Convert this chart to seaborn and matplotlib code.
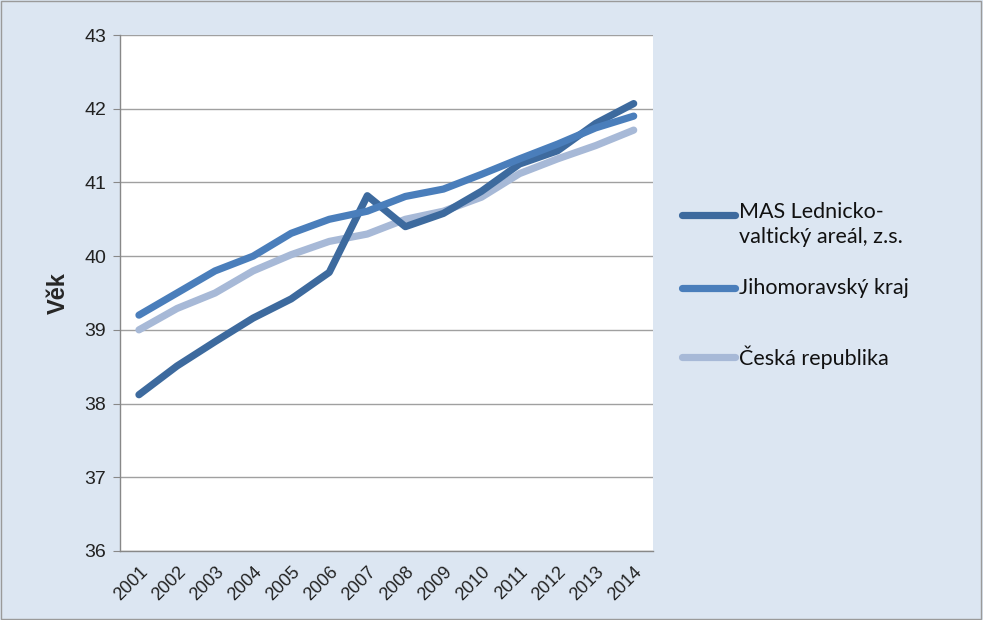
import matplotlib
matplotlib.use("Agg")
import matplotlib.pyplot as plt
from matplotlib.lines import Line2D
from matplotlib.patches import Rectangle
import seaborn as sns
import pandas as pd
import numpy as np

years = [str(y) for y in range(2001, 2015)]
mas = [38.12, 38.51, 38.84, 39.16, 39.42, 39.78, 40.82, 40.40, 40.58, 40.88, 41.25, 41.43, 41.80, 42.07]
jmk = [39.20, 39.50, 39.80, 40.00, 40.31, 40.50, 40.61, 40.81, 40.91, 41.11, 41.32, 41.52, 41.74, 41.90]
cr = [39.00, 39.29, 39.50, 39.80, 40.02, 40.20, 40.30, 40.50, 40.61, 40.80, 41.12, 41.32, 41.50, 41.71]
series_names = ["MAS Lednicko-\nvaltický areál, z.s.", "Jihomoravský kraj", "Česká republika"]
colors = ["#3D6A9E", "#4A7EBB", "#A7B9D7"]
yticks = [36, 37, 38, 39, 40, 41, 42, 43]

sns.set_style("white")
plt.rcParams['font.family'] = ['Liberation Sans', 'DejaVu Sans']

df = pd.DataFrame({
    "x": list(range(len(years))) * 3,
    "value": mas + jmk + cr,
    "series": [series_names[0]] * len(years) + [series_names[1]] * len(years) + [series_names[2]] * len(years),
})

bg = "#DCE6F2"
fig = plt.figure(figsize=(9.83, 6.2), dpi=100, facecolor=bg)
ax = fig.add_axes([0.122, 0.1113, 0.542, 0.8322])
ax.set_facecolor("white")

order = [2, 0, 1]
for i in order:
    sub = df[df["series"] == series_names[i]]
    sns.lineplot(data=sub, x="x", y="value", ax=ax, color=colors[i], linewidth=5.2,
                 legend=False, solid_capstyle="round", solid_joinstyle="round")

ax.set_xlim(-0.5, len(years) - 0.5)
ax.set_ylim(36, 43)
ax.set_yticks(yticks)
ax.set_yticklabels([str(t) for t in yticks], fontsize=14, color="#222222")
ax.yaxis.grid(True, color="#A0A0A0", linewidth=1.0)
ax.set_axisbelow(True)
ax.set_xticks(range(len(years)))
ax.set_xticklabels(years, rotation=45, ha="right", rotation_mode="anchor", fontsize=13, color="#222222")
ax.set_xticks(np.arange(-0.5, len(years), 1.0), minor=True)
ax.tick_params(axis="x", which="major", length=0, pad=9)
ax.tick_params(axis="x", which="minor", length=5, color="#888888", direction="out")
ax.tick_params(axis="y", which="major", length=5, color="#888888", direction="out", pad=5, left=True)
for s in ["top", "right"]:
    ax.spines[s].set_visible(False)
for s in ["left", "bottom"]:
    ax.spines[s].set_color("#888888")
    ax.spines[s].set_linewidth(1.0)
ax.set_xlabel("")
ax.set_ylabel("Věk", fontsize=17, fontweight="bold", labelpad=10)

# legend (manual, Excel-like layout)
W, H = 983, 620
leg_entries = [(215, series_names[0], colors[0]), (288, series_names[1], colors[1]), (357, series_names[2], colors[2])]
for ypx, label, col in leg_entries:
    yf = 1 - ypx / H
    fig.add_artist(Line2D([682 / W, 735 / W], [yf, yf], color=col, linewidth=5.2,
                          solid_capstyle="round", transform=fig.transFigure))
    multi = "\n" in label
    fig.text(739 / W, (1 - 202 / H) if multi else yf, label, fontsize=15.5,
             va="top" if multi else "center", ha="left", family=["Lato", "DejaVu Sans"],
             linespacing=1.3, color="#111111", transform=fig.transFigure)

fig.add_artist(Rectangle((0.001, 0.002), 0.997, 0.996, transform=fig.transFigure,
                         fill=False, edgecolor="#9A9A9A", linewidth=1.0))

fig.savefig("out.png", dpi=100, facecolor=bg)
